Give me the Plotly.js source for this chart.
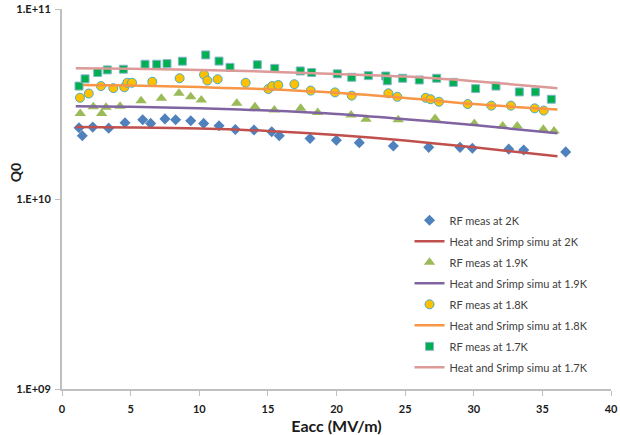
<!DOCTYPE html>
<html>
<head>
<meta charset="utf-8">
<script src="https://cdn.plot.ly/plotly-3.0.1.min.js"></script>
<style>html,body{margin:0;padding:0;background:#fff;}#chart{width:620px;height:435px;}</style>
</head>
<body>
<div id="chart"></div>
<script>
// Measured data: Eacc (MV/m) and Q0
const eacc2K = [1.24,1.48,2.24,3.40,4.59,5.88,6.46,7.50,8.28,9.38,10.32,11.44,12.63,13.99,15.28,15.83,18.07,19.99,21.66,24.14,26.72,29.0,29.9,32.55,33.64,36.70];
const q2K = [2.37e10,2.15e10,2.39e10,2.36e10,2.52e10,2.61e10,2.50e10,2.64e10,2.61e10,2.58e10,2.50e10,2.43e10,2.32e10,2.31e10,2.26e10,2.15e10,2.08e10,2.04e10,1.98e10,1.90e10,1.87e10,1.87e10,1.85e10,1.83e10,1.81e10,1.77e10];

const eacc19K = [1.33,2.28,2.89,3.21,4.23,5.76,7.24,8.52,9.38,10.15,12.73,14.06,15.47,17.39,18.63,21.06,22.15,24.50,27.18,30.04,32.11,33.17,35.07,35.85];
const q19K = [2.82e10,3.06e10,2.82e10,3.04e10,3.08e10,3.29e10,3.39e10,3.60e10,3.45e10,3.32e10,3.19e10,3.06e10,2.94e10,3.00e10,2.85e10,2.77e10,2.63e10,2.61e10,2.65e10,2.50e10,2.42e10,2.42e10,2.33e10,2.28e10];

const eacc18K = [1.31,1.95,2.84,3.74,4.54,4.76,5.10,6.58,8.57,10.35,10.59,11.34,13.38,15.03,15.32,15.76,16.93,18.12,19.89,21.11,23.78,24.43,26.50,26.86,27.47,29.56,31.28,32.71,34.44,35.10];
const q18K = [3.41e10,3.59e10,3.93e10,3.83e10,3.87e10,4.09e10,4.09e10,4.14e10,4.32e10,4.51e10,4.20e10,4.27e10,4.09e10,3.79e10,3.93e10,3.98e10,4.02e10,3.72e10,3.64e10,3.50e10,3.60e10,3.45e10,3.41e10,3.35e10,3.25e10,3.16e10,3.10e10,3.10e10,3.00e10,2.92e10];

const eacc17K = [1.24,1.68,2.60,3.30,4.47,6.05,6.90,7.65,8.77,10.47,11.44,12.24,14.23,15.50,17.36,18.19,20.06,21.11,22.32,23.59,23.70,24.82,26.03,27.30,28.51,30.14,31.62,33.32,34.49,35.65];
const q17K = [3.93e10,4.29e10,4.63e10,4.78e10,4.82e10,5.12e10,5.12e10,5.16e10,5.31e10,5.73e10,5.32e10,4.93e10,5.09e10,4.87e10,4.72e10,4.63e10,4.56e10,4.37e10,4.46e10,4.44e10,4.19e10,4.32e10,4.23e10,4.32e10,4.11e10,3.81e10,3.93e10,3.66e10,3.66e10,3.35e10];

// Simulation curves
const eaccSim = [1,5,10,15,20,25,30,36.1];
const sim2K = [2.39e10,2.38e10,2.35e10,2.28e10,2.17e10,2.03e10,1.87e10,1.68e10];
const sim19K = [3.08e10,3.06e10,3.00e10,2.92e10,2.80e10,2.63e10,2.45e10,2.22e10];
const sim18K = [3.98e10,3.96e10,3.88e10,3.78e10,3.62e10,3.40e10,3.16e10,2.96e10];
const sim17K = [4.87e10,4.85e10,4.78e10,4.68e10,4.55e10,4.41e10,4.17e10,3.83e10];

const yTickVals = [1e9,1e10,1e11];
const yTickText = ['1.E+09','1.E+10','1.E+11'];
const xTickVals = [0,5,10,15,20,25,30,35,40];

const names = ['RF meas at 2K','Heat and Srimp simu at 2K','RF meas at 1.9K','Heat and Srimp simu at 1.9K',
               'RF meas at 1.8K','Heat and Srimp simu at 1.8K','RF meas at 1.7K','Heat and Srimp simu at 1.7K'];

const traces = [
  {x: eacc2K, y: q2K, mode:'markers', name:names[0], legendgroup:'g1',
   marker:{symbol:'diamond', size:8.5, color:'#4f81bd'}},
  {x: eaccSim, y: sim2K, mode:'lines', name:names[1], legendgroup:'g2',
   line:{color:'#c0504d', width:2.5, shape:'spline'}},
  {x: eacc19K, y: q19K, mode:'markers', name:names[2], legendgroup:'g3',
   marker:{symbol:'triangle-up', size:10, color:'#9bbb59'}},
  {x: eaccSim, y: sim19K, mode:'lines', name:names[3], legendgroup:'g4',
   line:{color:'#8064a2', width:2.5, shape:'spline'}},
  {x: eacc18K, y: q18K, mode:'markers', name:names[4], legendgroup:'g5',
   marker:{symbol:'circle', size:9, color:'#ffc000', line:{color:'#4bacc6', width:1}}},
  {x: eaccSim, y: sim18K, mode:'lines', name:names[5], legendgroup:'g6',
   line:{color:'#f79646', width:2.5, shape:'spline'}},
  {x: eacc17K, y: q17K, mode:'markers', name:names[6], legendgroup:'g7',
   marker:{symbol:'square', size:8, color:'#00b050', line:{color:'#86b6cc', width:1}}},
  {x: eaccSim, y: sim17K, mode:'lines', name:names[7], legendgroup:'g8',
   line:{color:'#dc9a98', width:2.5, shape:'spline'}}
];

const fontFam = 'Lato, "Liberation Sans", Arial, sans-serif';
const layout = {
  width:620, height:435,
  margin:{l:62, r:9, t:9, b:46},
  paper_bgcolor:'#fff', plot_bgcolor:'#fff',
  showlegend:true,
  legend:{x:0.633, xanchor:'left', y:0.482, yanchor:'top', bgcolor:'rgba(0,0,0,0)',
          font:{family:fontFam, size:11, color:'#404040'}, tracegroupgap:2},
  xaxis:{range:[0,40], tickvals:xTickVals, showgrid:false, zeroline:false,
         showline:true, linecolor:'#bfbfbf', linewidth:1.5,
         ticks:'outside', ticklen:5, tickcolor:'#bfbfbf', tickwidth:1, ticklabelstandoff:4,
         tickfont:{family:fontFam, size:11, color:'#1a1a1a', weight:'bold'},
         title:{text:'<b>Eacc (MV/m)</b>', font:{family:fontFam, size:16, color:'#1a1a1a'}, standoff:9}},
  yaxis:{type:'log', range:[9,11], tickvals:yTickVals, ticktext:yTickText, showgrid:false, zeroline:false,
         showline:true, linecolor:'#bfbfbf', linewidth:2,
         ticks:'outside', ticklen:5, tickcolor:'#bfbfbf', tickwidth:1, ticklabelstandoff:2,
         tickfont:{family:fontFam, size:11, color:'#1a1a1a', weight:'bold'}},
  annotations:[{text:'<b>Q0</b>', xref:'paper', yref:'paper', x:-0.084, xanchor:'center', y:0.57, yanchor:'middle', textangle:-90,
                showarrow:false, font:{family:fontFam, size:14, color:'#1a1a1a'}}]
};

Plotly.newPlot('chart', traces, layout, {displayModeBar:false, staticPlot:true});
</script>
</body>
</html>
